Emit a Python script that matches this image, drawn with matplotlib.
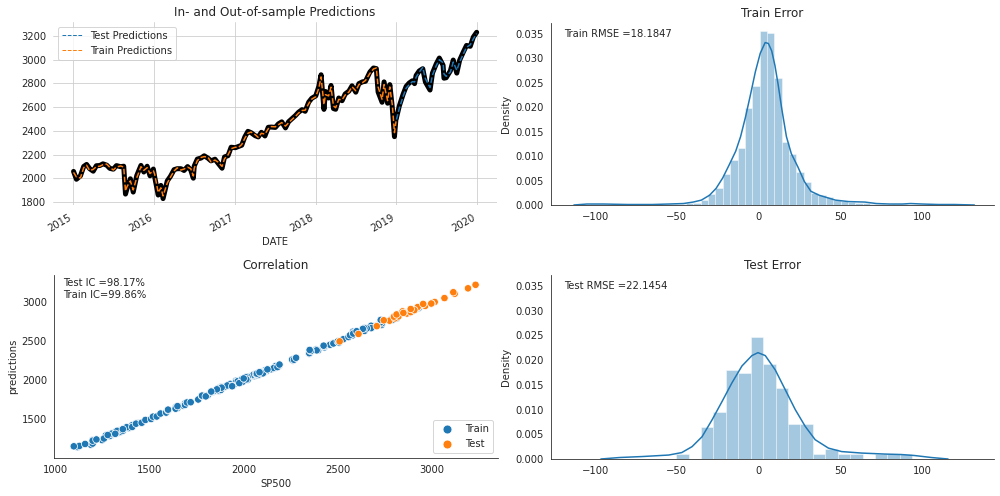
import numpy as np
import pandas as pd
import matplotlib
matplotlib.use("Agg")
import matplotlib.pyplot as plt
import seaborn as sns

# --- price series 2015-2019 (actual close vs. model prediction) ---
train_dates = ["2015-01-02", "2015-01-15", "2015-02-02", "2015-02-17", "2015-03-02", "2015-03-16",
               "2015-04-01", "2015-04-15", "2015-05-01", "2015-05-15", "2015-06-01", "2015-06-15",
               "2015-07-01", "2015-07-15", "2015-08-03", "2015-08-17", "2015-08-25", "2015-09-01",
               "2015-09-16", "2015-09-29", "2015-10-15", "2015-11-03", "2015-11-16", "2015-12-01",
               "2015-12-14", "2015-12-29", "2016-01-04", "2016-01-20", "2016-02-01", "2016-02-11",
               "2016-03-01", "2016-03-15", "2016-04-01", "2016-04-15", "2016-05-02", "2016-05-16",
               "2016-06-01", "2016-06-15", "2016-06-27", "2016-07-01", "2016-07-15", "2016-08-01",
               "2016-08-15", "2016-09-01", "2016-09-15", "2016-10-03", "2016-10-17", "2016-11-04",
               "2016-11-15", "2016-12-01", "2016-12-15", "2017-01-03", "2017-01-17", "2017-02-01",
               "2017-02-15", "2017-03-01", "2017-03-15", "2017-04-03", "2017-04-17", "2017-05-01",
               "2017-05-17", "2017-06-01", "2017-06-15", "2017-07-03", "2017-07-17", "2017-08-01",
               "2017-08-18", "2017-09-01", "2017-09-15", "2017-10-02", "2017-10-16", "2017-11-01",
               "2017-11-15", "2017-12-01", "2017-12-15", "2018-01-02", "2018-01-16", "2018-01-26",
               "2018-02-08", "2018-02-15", "2018-03-01", "2018-03-12", "2018-03-23", "2018-04-02",
               "2018-04-16", "2018-05-01", "2018-05-15", "2018-06-01", "2018-06-15", "2018-07-02",
               "2018-07-16", "2018-08-01", "2018-08-15", "2018-09-04", "2018-09-20", "2018-10-03",
               "2018-10-11", "2018-10-29", "2018-11-07", "2018-11-23", "2018-12-03", "2018-12-14",
               "2018-12-24", "2018-12-31"]
train_actual = [2058, 1992, 2020, 2100, 2117, 2081, 2060, 2106, 2108, 2122, 2111, 2084,
                2077, 2107, 2098, 2102, 1867, 1914, 1996, 1884, 2023, 2109, 2053, 2102,
                2021, 2078, 2012, 1859, 1940, 1829, 1978, 2015, 2073, 2081, 2081, 2066,
                2099, 2071, 2001, 2103, 2162, 2171, 2190, 2170, 2147, 2161, 2127, 2085,
                2180, 2191, 2262, 2258, 2268, 2279, 2349, 2396, 2385, 2359, 2349, 2388,
                2357, 2430, 2432, 2429, 2459, 2476, 2425, 2477, 2500, 2529, 2557, 2579,
                2565, 2642, 2675, 2695, 2776, 2873, 2581, 2732, 2677, 2783, 2588, 2582,
                2677, 2654, 2711, 2735, 2780, 2726, 2798, 2813, 2818, 2896, 2930, 2925,
                2728, 2641, 2813, 2633, 2790, 2600, 2351, 2507]
train_pred = [2050, 2011, 2003, 2090, 2110, 2065, 2075, 2098, 2102, 2115, 2120, 2092,
              2070, 2095, 2104, 2095, 1893, 1930, 1978, 1902, 2005, 2098, 2067, 2090,
              2040, 2065, 2035, 1880, 1920, 1852, 1960, 2008, 2062, 2088, 2070, 2078,
              2094, 2082, 2020, 2085, 2150, 2176, 2183, 2178, 2138, 2154, 2136, 2100,
              2165, 2198, 2250, 2262, 2260, 2285, 2338, 2380, 2390, 2368, 2344, 2380,
              2372, 2418, 2436, 2434, 2452, 2470, 2440, 2468, 2494, 2522, 2550, 2572,
              2574, 2630, 2668, 2688, 2762, 2855, 2620, 2705, 2695, 2768, 2610, 2595,
              2665, 2662, 2702, 2728, 2772, 2738, 2790, 2806, 2825, 2885, 2922, 2930,
              2770, 2665, 2790, 2655, 2770, 2625, 2385, 2480]

test_dates = ["2019-01-02", "2019-01-15", "2019-02-01", "2019-02-15", "2019-03-01", "2019-03-15",
              "2019-03-25", "2019-04-01", "2019-04-15", "2019-05-01", "2019-05-13", "2019-06-03",
              "2019-06-14", "2019-07-01", "2019-07-15", "2019-08-01", "2019-08-05", "2019-08-15",
              "2019-09-03", "2019-09-16", "2019-10-02", "2019-10-15", "2019-11-01", "2019-11-15",
              "2019-12-02", "2019-12-16", "2019-12-31"]
test_actual = [2510, 2610, 2707, 2775, 2804, 2822, 2798, 2867, 2905, 2924, 2812, 2744,
               2887, 2964, 3014, 2953, 2844, 2848, 2906, 2997, 2887, 2996, 3066, 3120,
               3113, 3191, 3231]
test_pred = [2495, 2590, 2690, 2760, 2790, 2815, 2812, 2852, 2895, 2935, 2840, 2765,
             2870, 2950, 3000, 2975, 2880, 2860, 2895, 2980, 2910, 2980, 3050, 3105,
             3125, 3175, 3220]

# --- earlier training sample (2011-2014), only shown in the correlation plot ---
early_actual = [1271, 1300, 1330, 1320, 1360, 1335, 1345, 1300, 1270, 1320,
                1340, 1290, 1200, 1120, 1190, 1130, 1100, 1200, 1250, 1200,
                1160, 1250, 1220, 1260, 1290, 1320, 1350, 1370, 1400, 1410,
                1380, 1330, 1300, 1280, 1320, 1360, 1390, 1410, 1440, 1460,
                1430, 1410, 1380, 1360, 1410, 1430, 1460, 1480, 1510, 1520,
                1540, 1560, 1590, 1600, 1650, 1640, 1600, 1640, 1680, 1690,
                1650, 1690, 1700, 1720, 1760, 1790, 1800, 1780, 1810, 1840,
                1830, 1780, 1800, 1850, 1870, 1860, 1880, 1900, 1920, 1950,
                1960, 1980, 1930, 1960, 2000, 1990, 1970, 1880, 1940, 2010,
                2040, 2070, 2050, 2000, 2080]
early_pred = [1280, 1292, 1318, 1335, 1348, 1342, 1330, 1315, 1290, 1308,
              1352, 1302, 1230, 1140, 1170, 1155, 1150, 1185, 1236, 1222,
              1180, 1230, 1238, 1250, 1282, 1310, 1338, 1378, 1392, 1420,
              1390, 1348, 1312, 1295, 1310, 1350, 1384, 1402, 1448, 1450,
              1442, 1420, 1395, 1370, 1398, 1440, 1452, 1488, 1500, 1530,
              1532, 1570, 1582, 1612, 1640, 1650, 1620, 1632, 1672, 1700,
              1665, 1680, 1712, 1715, 1750, 1800, 1792, 1795, 1802, 1850,
              1845, 1800, 1790, 1862, 1860, 1880, 1872, 1912, 1928, 1942,
              1990, 1972, 1950, 1975, 1990, 2010, 1985, 1910, 1925, 2000,
              2050, 2060, 2062, 2020, 2070]

# --- error distributions (histogram densities + kde) ---
train_hist = [0.0000, 0.0001, 0.0002, 0.0002, 0.0001, 0.0001, 0.0000, 0.0001, 0.0001, 0.0001,
              0.0001, 0.0002, 0.0002, 0.0003, 0.0003, 0.0004, 0.0005, 0.0010, 0.0023, 0.0035,
              0.0063, 0.0092, 0.0117, 0.0199, 0.0244, 0.0355, 0.0352, 0.0260, 0.0128, 0.0104,
              0.0068, 0.0046, 0.0024, 0.0021, 0.0016, 0.0011, 0.0009, 0.0006, 0.0005, 0.0004,
              0.0003, 0.0002, 0.0001, 0.0003, 0.0002, 0.0001, 0.0001, 0.0001, 0.0001, 0.0000,
              0.0000, 0.0001]
train_edges = np.linspace(-111.9, 122.1, len(train_hist) + 1)
train_kde_x = [-113, -105, -95, -80, -65, -55, -46, -40, -35, -30, -26, -22, -18, -14, -11,
               -8, -5, -2, 1, 4, 6, 8, 10, 12, 14, 17, 20, 24, 28, 32, 37, 42, 47, 55, 65,
               72, 80, 88, 93, 100, 110, 120, 132]
train_kde_y = [0.0000, 0.0002, 0.0002, 0.0001, 0.0001, 0.0002, 0.0003, 0.0006, 0.0010, 0.0020,
               0.0034, 0.0055, 0.0082, 0.0110, 0.0140, 0.0180, 0.0225, 0.0272, 0.0310, 0.0332,
               0.0330, 0.0315, 0.0285, 0.0245, 0.0200, 0.0140, 0.0105, 0.0078, 0.0048, 0.0028,
               0.0020, 0.0015, 0.0010, 0.0007, 0.0006, 0.0003, 0.0002, 0.0002, 0.0003, 0.0002,
               0.0001, 0.0001, 0.0000]

test_hist = [0.0010, 0.0000, 0.0064, 0.0094, 0.0179, 0.0173, 0.0246, 0.0193, 0.0144, 0.0070,
             0.0070, 0.0010, 0.0020, 0.0010, 0.0010, 0.0000, 0.0010, 0.0010, 0.0010]
test_edges = np.linspace(-50.4, 94.0, len(test_hist) + 1)
test_kde_x = [-96.5, -85, -71, -55, -47, -40.7, -34.6, -28.5, -22.4, -16.3, -10.2, -4.1, -0.4,
              4.1, 10.2, 16.3, 22.4, 28.5, 34.6, 42.7, 50.8, 63, 77, 87.4, 95.5, 105.7, 115.9]
test_kde_y = [0.0000, 0.0003, 0.0005, 0.0008, 0.0013, 0.0025, 0.0045, 0.0079, 0.0116, 0.0154,
              0.0188, 0.0209, 0.0215, 0.0209, 0.0180, 0.0140, 0.0100, 0.0066, 0.0039, 0.0022,
              0.0015, 0.0012, 0.0010, 0.0009, 0.0007, 0.0003, 0.0000]

train_rmse = 18.1847
test_rmse = 22.1454
test_ic = 98.17
train_ic = 99.86

blue, orange = sns.color_palette()[0], sns.color_palette()[1]

fig = plt.figure(figsize=(1000 / 72, 496 / 72), dpi=72)

# ---------- top left: predictions over time ----------
sns.set_style("whitegrid")
ax1 = fig.add_axes([0.053, 0.5867, 0.444, 0.369])
all_dates = pd.to_datetime(train_dates + test_dates)
ax1.plot(all_dates, train_actual + test_actual, color="k", lw=5)
ax1.plot(pd.to_datetime(test_dates), test_pred, ls="--", lw=1.5, color=blue, label="Test Predictions")
ax1.plot(pd.to_datetime(train_dates), train_pred, ls="--", lw=1.5, color=orange, label="Train Predictions")
ax1.set_xlim(pd.Timestamp("2014-10-01"), pd.Timestamp("2020-04-01"))
ax1.set_ylim(1775, 3318)
ax1.set_yticks(range(1800, 3201, 200))
ax1.set_title("In- and Out-of-sample Predictions", fontsize=12)
ax1.set_xlabel("DATE", fontsize=10)
for lbl in ax1.get_xticklabels():
    lbl.set_rotation(30)
    lbl.set_ha("right")
ax1.tick_params(labelsize=10)
leg = ax1.legend(loc="upper left", fontsize=10, handlelength=2)
for line in leg.get_lines():
    line.set_linewidth(1)
for s in ax1.spines.values():
    s.set_visible(False)

# ---------- the other panels use the white style ----------
sns.set_style("white")


def error_panel(rect, title, hist, edges, kde_x, kde_y, note):
    ax = fig.add_axes(rect)
    ax.bar(edges[:-1], hist, width=np.diff(edges), align="edge",
           color=blue, alpha=0.4, edgecolor="white", linewidth=1)
    ax.plot(kde_x, kde_y, color=blue, lw=1.5)
    ax.set_xlim(-127, 144)
    ax.set_ylim(0, 0.0372)
    ax.set_yticks([0, 0.005, 0.01, 0.015, 0.02, 0.025, 0.03, 0.035])
    ax.set_yticklabels([f"{v:.3f}" for v in ax.get_yticks()])
    ax.set_xticks([-100, -50, 0, 50, 100])
    ax.set_ylabel("Density", fontsize=10)
    ax.set_title(title, fontsize=12)
    ax.tick_params(labelsize=10)
    ax.text(0.03, 0.965, note, transform=ax.transAxes, va="top", fontsize=10)
    sns.despine(ax=ax)
    return ax


error_panel([0.551, 0.5867, 0.443, 0.367], "Train Error", train_hist, train_edges,
            train_kde_x, train_kde_y, f"Train RMSE ={train_rmse}")
error_panel([0.551, 0.0746, 0.443, 0.371], "Test Error", test_hist, test_edges,
            test_kde_x, test_kde_y, f"Test RMSE ={test_rmse}")

# ---------- bottom left: correlation ----------
ax3 = fig.add_axes([0.054, 0.0766, 0.444, 0.369])
scatter_df = pd.DataFrame({
    "SP500": early_actual + train_actual + test_actual,
    "predictions": early_pred + train_pred + test_pred,
    "data": ["Train"] * (len(early_actual) + len(train_actual)) + ["Test"] * len(test_actual),
})
sns.scatterplot(data=scatter_df, x="SP500", y="predictions", hue="data", ax=ax3,
                s=55, edgecolor="white", linewidth=0.75)
ax3.set_xlim(995, 3350)
ax3.set_ylim(1000, 3346)
ax3.set_xticks([1000, 1500, 2000, 2500, 3000])
ax3.set_yticks([1500, 2000, 2500, 3000])
ax3.set_title("Correlation", fontsize=12)
ax3.set_xlabel("SP500", fontsize=10)
ax3.set_ylabel("predictions", fontsize=10)
ax3.tick_params(labelsize=10)
ax3.legend(title=None, loc="lower right", fontsize=10, markerscale=1.2)
ax3.text(0.02, 0.985, f"Test IC ={test_ic}%\nTrain IC={train_ic}%", transform=ax3.transAxes,
         va="top", fontsize=10, linespacing=1.3)
sns.despine(ax=ax3)

fig.savefig("out.png", dpi=72)
